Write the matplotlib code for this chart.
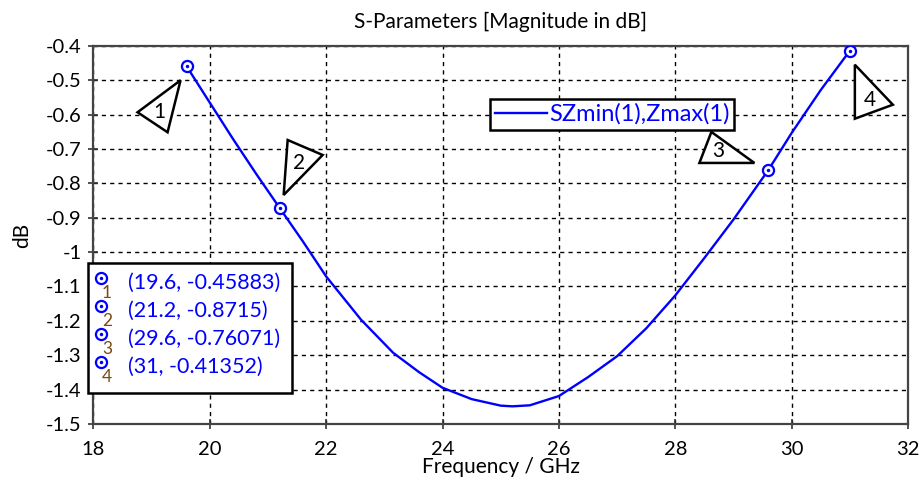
import matplotlib
matplotlib.use("Agg")
import matplotlib.pyplot as plt
from matplotlib.patches import Polygon, Rectangle
from matplotlib.transforms import Affine2D, ScaledTranslation

plt.rcParams['font.family'] = ['Lato', 'DejaVu Sans']

# curve
freq = [19.6, 20.0, 20.4, 20.8, 21.2, 21.6, 22.0, 22.6, 23.15, 23.6, 24.0, 24.5, 25.0,
        25.2, 25.5, 26.0, 26.5, 27.0, 27.5, 28.0, 28.5, 29.0, 29.6, 30.0, 30.5, 31.0]
s_db = [-0.4588, -0.565, -0.671, -0.773, -0.8715, -0.969, -1.071, -1.197, -1.293, -1.350, -1.395,
        -1.428, -1.447, -1.449, -1.446, -1.419, -1.364, -1.303, -1.222, -1.126, -1.017, -0.905,
        -0.7607, -0.653, -0.528, -0.4135]

# markers
mk_freq = [19.6, 21.2, 29.6, 31]
mk_db = [-0.45883, -0.8715, -0.76071, -0.41352]
mk_names = ['1', '2', '3', '4']

blue = '#0000ff'

fig = plt.figure(figsize=(9.2, 4.9), dpi=100)
ax = fig.add_axes([0.1016, 0.135, 0.8854, 0.771])

ax.plot(freq, s_db, color=blue, lw=1.7, label='SZmin(1),Zmax(1)', zorder=3)
ax.plot(mk_freq, mk_db, ls='none', marker='o', ms=8, mfc='white', mec=blue, mew=1.6, zorder=4)
ax.plot(mk_freq, mk_db, ls='none', marker='.', ms=3, color=blue, zorder=5)

ax.set_xlim(18, 32)
ax.set_ylim(-1.5, -0.4)
ax.set_xticks(range(18, 33, 2))
ax.set_yticks([-1.5 + 0.1 * i for i in range(12)])
ax.set_yticklabels(['-1.5', '-1.4', '-1.3', '-1.2', '-1.1', '-1', '-0.9', '-0.8', '-0.7', '-0.6', '-0.5', '-0.4'])
ax.tick_params(direction='inout', length=7, width=1.2, labelsize=14.5, colors='#333333',
               labelcolor='black')
ax.tick_params(axis='x', pad=9)
ax.tick_params(axis='y', pad=5)
ax.grid(True, color='black', ls=(0, (3, 3)), lw=1)
for sp in ax.spines.values():
    sp.set_linewidth(1.6)
    sp.set_color('#444444')

ax.set_title('S-Parameters [Magnitude in dB]', fontsize=15, pad=13)
ax.set_xlabel('Frequency / GHz', fontsize=15, labelpad=-1)
ax.set_ylabel('dB', fontsize=15, labelpad=10)

leg = ax.legend(loc='center', bbox_to_anchor=(0.637, 0.82), fontsize=17, frameon=True,
                fancybox=False, framealpha=1, edgecolor='black', handlelength=2.2,
                handletextpad=0.1, borderpad=0.2, borderaxespad=0, labelcolor=blue)
leg.get_frame().set_linewidth(1.8)

# triangle flags next to each marker (pixel offsets, y up)
tri_offsets = [
    [(-6, -14), (-49, -46), (-19, -66)],
    [(8, 68), (43, 53), (4, 13)],
    [(-57, 38), (-14, 7), (-69, 7)],
    [(5, -14), (43, -54), (5, -68)],
]
txt_offsets = [(-27, -46), (19, 45), (-50, 19), (20, -49)]
for x, y, name, tri, tp in zip(mk_freq, mk_db, mk_names, tri_offsets, txt_offsets):
    tr = Affine2D() + ScaledTranslation(x, y, ax.transData)
    ax.add_patch(Polygon(tri, closed=True, fc='white', ec='black', lw=1.8,
                         transform=tr, zorder=6, clip_on=False))
    ax.text(tp[0], tp[1], name, transform=tr, ha='center', va='center',
            fontsize=15, zorder=7)

# marker table
ax.add_patch(Rectangle((-0.0068, 0.082), 0.2505, 0.344, transform=ax.transAxes,
                       fc='white', ec='black', lw=1.8, zorder=8, clip_on=False))
row_y = [0.373, 0.299, 0.225, 0.151]
for ry, name, x, y in zip(row_y, mk_names, mk_freq, mk_db):
    ax.plot([0.009], [ry + 0.012], transform=ax.transAxes, marker='o', ms=8, mfc='white',
            mec=blue, mew=1.6, zorder=9, clip_on=False)
    ax.plot([0.009], [ry + 0.012], transform=ax.transAxes, marker='.', ms=3, color=blue,
            zorder=10, clip_on=False)
    ax.text(0.0165, ry - 0.027, name, transform=ax.transAxes, ha='center', va='center',
            fontsize=12.5, color='#7a4a10', zorder=10)
    ax.text(0.042, ry, f'({x:g}, {y:g})', transform=ax.transAxes, ha='left', va='center',
            fontsize=15.5, color=blue, zorder=10)

fig.savefig('out.png', dpi=100)
